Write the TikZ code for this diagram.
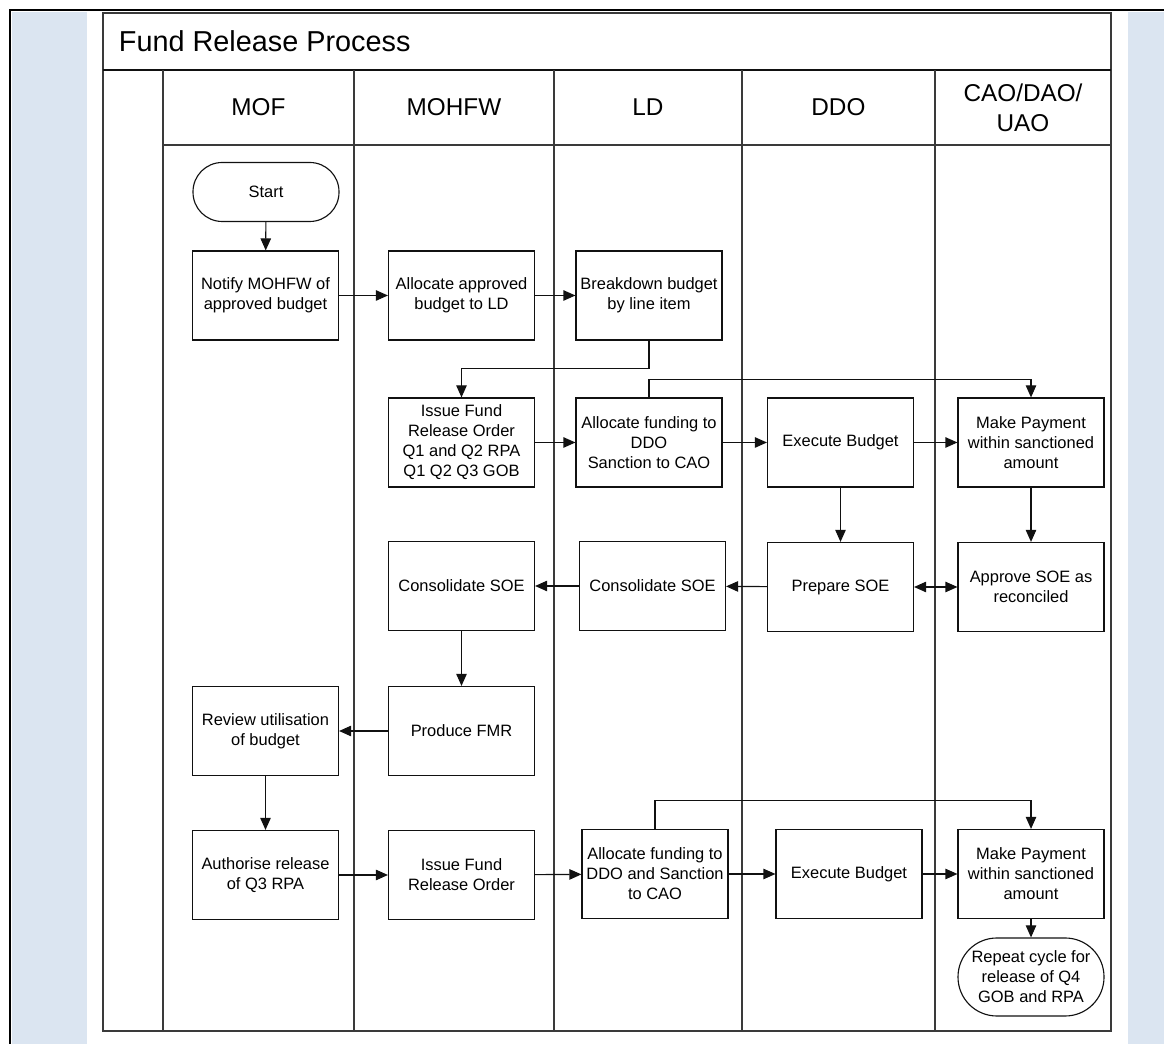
\documentclass[tikz,border=0pt]{standalone}
\usepackage{fontspec}
\setmainfont{Liberation Sans}
\usetikzlibrary{arrows.meta, backgrounds}
\definecolor{sidefill}{HTML}{DBE5F1}
\definecolor{gridline}{HTML}{3A3A3A}
\definecolor{darkline}{HTML}{111111}
\tikzset{
  frame/.style={draw=gridline, line width=1.2pt},
  laneline/.style={draw=gridline, line width=1pt},
  box/.style={rectangle, align=center, draw=darkline, fill=white, line width=0.8pt, minimum width=3.65cm, minimum height=2.225cm, inner sep=1pt, font=\fontsize{11.7}{14.2}\selectfont},
  terminal/.style={box, rounded corners=0.73cm, minimum height=1.475cm},
  flow/.style={-{Triangle[length=3mm, width=2.6mm]}, line width=0.8pt, draw=darkline},
  twoway/.style={flow, {Triangle[length=3mm, width=2.6mm]}-{Triangle[length=3mm, width=2.6mm]}},
  lane-title/.style={font=\fontsize{17.3}{21.3}\selectfont, align=center},
  chart-title/.style={font=\fontsize{20.5}{24}\selectfont, anchor=west}
}

\begin{document}
\begin{tikzpicture}
\useasboundingbox (0,0) rectangle (29.1,26.1);

\begin{pgfonlayer}{background}
  \fill[sidefill] (0.3,0) rectangle (2.175,25.8);
  \fill[sidefill] (28.2,0) rectangle (29.1,25.8);
  \draw[line width=2pt, black] (0.25,0) -- (0.25,25.85) -- (29.1,25.85);
  % swimlane grid
  \draw[frame] (2.575,0.325) rectangle (27.775,25.775);
  \draw[line width=1.6pt, draw=darkline] (2.575,24.35) -- (27.775,24.35);
  \draw[laneline] (4.075,22.475) -- (27.775,22.475);
  \foreach \x in {4.075, 8.85, 13.85, 18.55, 23.375}
    \draw[laneline] (\x,24.35) -- (\x,0.325);
\end{pgfonlayer}

\node[chart-title] (title) at (2.85, 25.075) {Fund Release Process};
\node[lane-title] (mof) at (6.46, 23.41) {MOF};
\node[lane-title] (mohfw) at (11.35, 23.41) {MOHFW};
\node[lane-title] (ld) at (16.2, 23.41) {LD};
\node[lane-title] (ddo) at (20.96, 23.41) {DDO};
\node[lane-title] (cao) at (25.575, 23.41) {CAO/DAO/\\UAO};

% first release: Q1/Q2
\node[terminal] (start) at (6.65, 21.3) {Start};
\node[box] (notify) at (6.6375, 18.7125) {Notify MOHFW of\\approved budget};
\node[box] (allocbudget) at (11.5375, 18.7125) {Allocate approved\\budget to LD};
\node[box] (breakdown) at (16.225, 18.7125) {Breakdown budget\\by line item};

\node[box] (issueorder) at (11.5375, 15.0375) {Issue Fund\\Release Order\\Q1 and Q2 RPA\\Q1 Q2 Q3 GOB};
\node[box] (allocfund) at (16.225, 15.0375) {Allocate funding to\\DDO\\Sanction to CAO};
\node[box] (execute) at (21.0125, 15.0375) {Execute Budget};
\node[box] (payment) at (25.775, 15.0375) {Make Payment\\within sanctioned\\amount};

% SOE reporting
\node[box] (consolmohfw) at (11.5375, 11.45) {Consolidate SOE};
\node[box] (consolld) at (16.3125, 11.45) {Consolidate SOE};
\node[box] (prepare) at (21.0125, 11.425) {Prepare SOE};
\node[box] (approve) at (25.775, 11.425) {Approve SOE as\\reconciled};

\node[box] (review) at (6.6375, 7.825) {Review utilisation\\of budget};
\node[box] (fmr) at (11.5375, 7.825) {Produce FMR};

% second release: Q3
\node[box] (authorise) at (6.6375, 4.225) {Authorise release\\of Q3 RPA};
\node[box] (issueagain) at (11.5375, 4.225) {Issue Fund\\Release Order};
\node[box] (allocagain) at (16.375, 4.25) {Allocate funding to\\DDO and Sanction\\to CAO};
\node[box] (executeagain) at (21.225, 4.25) {Execute Budget};
\node[box] (paymentagain) at (25.775, 4.25) {Make Payment\\within sanctioned\\amount};
\node[terminal, rounded corners=0.97cm, minimum height=1.95cm] (repeat) at (25.775, 1.675) {Repeat cycle for\\release of Q4\\GOB and RPA};

\draw[flow] (start) -- (notify);
\draw[flow] (notify) -- (allocbudget);
\draw[flow] (allocbudget) -- (breakdown);
\draw[flow] (breakdown.south) -- ++(0,-0.7) -| (issueorder.north);
\draw[flow] (issueorder) -- (allocfund);
\draw[flow] (allocfund.north) -- ++(0,0.45) -| (payment.north);
\draw[flow] (allocfund) -- (execute);
\draw[flow] (execute) -- (payment);
\draw[flow] (execute) -- (prepare);
\draw[flow] (payment) -- (approve);
\draw[twoway] (prepare) -- (approve);
\draw[flow] (prepare) -- (consolld);
\draw[flow] (consolld) -- (consolmohfw);
\draw[flow] (consolmohfw) -- (fmr);
\draw[flow] (fmr) -- (review);
\draw[flow] (review) -- (authorise);
\draw[flow] (authorise) -- (issueagain);
\draw[flow] (issueagain) -- (allocagain);
\draw[flow] (allocagain.north) -- ++(0,0.7) -| (paymentagain.north);
\draw[flow] (allocagain) -- (executeagain);
\draw[flow] (executeagain) -- (paymentagain);
\draw[flow] (paymentagain) -- (repeat);

\end{tikzpicture}
\end{document}
